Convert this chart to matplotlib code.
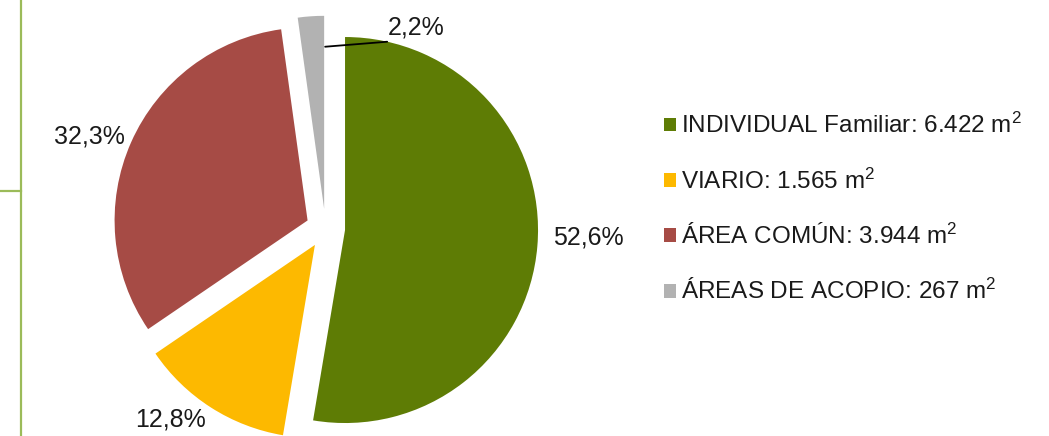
import math
import matplotlib
matplotlib.use("Agg")
import matplotlib.pyplot as plt
from matplotlib.lines import Line2D
import numpy as np

plt.rcParams['font.family'] = ['Liberation Sans', 'DejaVu Sans']
plt.rcParams['mathtext.fontset'] = 'custom'
plt.rcParams['mathtext.rm'] = 'Liberation Sans'
plt.rcParams['mathtext.it'] = 'Liberation Sans'

# ---- data ----
categories = ["INDIVIDUAL Familiar", "VIARIO", "ÁREA COMÚN", "ÁREAS DE ACOPIO"]
areas_m2 = [6422, 1565, 3944, 267]
area_labels = ["6.422", "1.565", "3.944", "267"]
pct_labels = ["52,6%", "12,8%", "32,3%", "2,2%"]
colors = ["#5E7C05", "#FDB900", "#A64B45", "#B2B2B2"]

W, H = 1049, 436
fig = plt.figure(figsize=(W / 100, H / 100), dpi=100)
ax = fig.add_axes([0, 0, 1, 1])

R = 193
center = (325.5, H - 228.4)
wedges, _ = ax.pie(areas_m2, radius=R, center=center, startangle=90,
                   counterclock=False, colors=colors,
                   explode=[19.6] * len(areas_m2),
                   wedgeprops=dict(linewidth=0))
ax.set_xlim(0, W)
ax.set_ylim(0, H)
ax.set_aspect('equal')
ax.axis('off')


def arc_mid(w, frac=1.0):
    th = math.radians((w.theta1 + w.theta2) / 2)
    cx, cy = w.center
    return cx + frac * w.r * math.cos(th), cy + frac * w.r * math.sin(th)


fs_lab = 18
# green label
x, y = arc_mid(wedges[0])
ax.annotate(pct_labels[0], (x, y), xytext=(16, 9), textcoords='offset pixels',
            ha='left', va='center', fontsize=fs_lab, color='#1a1a1a')
# yellow label
x, y = arc_mid(wedges[1])
ax.annotate(pct_labels[1], (x, y), xytext=(-5, -12), textcoords='offset pixels',
            ha='right', va='center', fontsize=fs_lab, color='#1a1a1a')
# red label
x, y = arc_mid(wedges[2])
ax.annotate(pct_labels[2], (x, y), xytext=(-6, 6), textcoords='offset pixels',
            ha='right', va='center', fontsize=fs_lab, color='#1a1a1a')
# gray label with leader line
wg = wedges[3]
th = math.radians(min(wg.theta1, wg.theta2))
gx = wg.center[0] + 0.84 * wg.r * math.cos(th) + 1
gy = wg.center[1] + 0.84 * wg.r * math.sin(th)
ax.annotate("", (gx, gy), xytext=(gx + 62, gy + 5), textcoords='data',
            arrowprops=dict(arrowstyle='-', color='black', lw=1.3,
                            shrinkA=0, shrinkB=0))
ax.text(gx + 63, gy + 7, pct_labels[3], ha='left', va='bottom',
        fontsize=fs_lab, color='#1a1a1a')

# legend
leg_labels = [f"{c}: {a} m$^{{2}}$" for c, a in zip(categories, area_labels)]
leg = ax.legend(wedges, leg_labels, loc='upper left',
                bbox_to_anchor=(664 / W, 1 - 113 / H), frameon=False,
                fontsize=17.5, handlelength=0.5, handleheight=0.5,
                handletextpad=0.2, labelspacing=1.24, borderpad=0,
                borderaxespad=0)
for t in leg.get_texts():
    t.set_color('#1a1a1a')

# left frame lines
line_col = '#9BBB59'
fig.add_artist(Line2D([21 / W, 21 / W], [0, 1], color=line_col, lw=1.6,
                      transform=fig.transFigure))
fig.add_artist(Line2D([0, 21 / W], [1 - 191 / H, 1 - 191 / H], color=line_col,
                      lw=1.6, transform=fig.transFigure))

fig.savefig("out.png", dpi=100)
